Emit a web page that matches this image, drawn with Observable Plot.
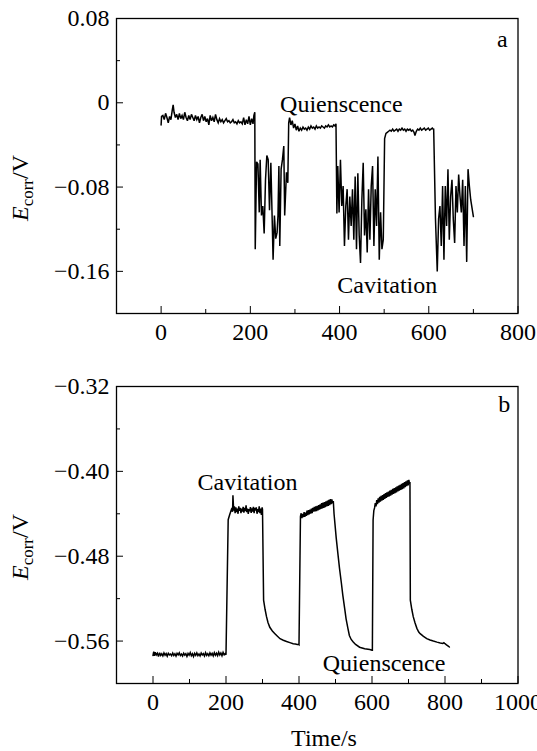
<!DOCTYPE html>
<html><head><meta charset="utf-8">
<script src="https://cdn.jsdelivr.net/npm/d3@7"></script>
<script src="https://cdn.jsdelivr.net/npm/@observablehq/plot@0.6"></script>
<style>
html,body{margin:0;padding:0;background:#fff;}
#chart svg{display:block;}
</style></head><body><div id="chart"></div>
<script>
// ---- Panel a: time (s) and Ecorr (V)
const timeA = [0,1,4,7,10,13,16,19,22,25,27,29,32,35,38,41,44,47,50,53,56,59,62,65,68,71,74,77,80,83,86,89,92,95,98,101,104,107,110,113,116,119,122,125,128,131,134,137,140,143,146,149,152,155,158,161,164,167,170,173,176,179,182,185,188,191,194,197,200,203,206,208,210,
211,214,217,220,222,225,228,231,234,237,240,243,246,249,251,254,257,260,262,264,266,269,272,275,277,281,284,286,288,
291,294,297,300,303,306,309,312,315,318,321,324,327,330,333,336,339,342,345,348,351,354,357,360,363,366,369,372,375,378,381,384,387,390,392,
394,396,399,402,405,408,411,414,417,420,423,426,429,432,435,438,441,444,447,450,453,456,459,462,465,468,471,474,477,480,483,486,489,492,495,498,501,
504,507,510,513,516,519,522,525,528,531,534,537,540,543,546,549,552,555,558,561,564,567,569,572,575,578,581,584,587,590,593,596,599,602,605,608,610,
611,615,619,622,625,628,631,634,637,640,643,646,649,652,655,658,661,664,667,670,673,676,679,682,685,688,691,694,700];
const ecorrA = [-0.021,-0.013,-0.012,-0.016,-0.010,-0.014,-0.019,-0.013,-0.016,-0.007,-0.002,-0.009,-0.014,-0.011,-0.016,-0.010,-0.015,-0.012,-0.016,-0.009,-0.014,-0.017,-0.012,-0.016,-0.011,-0.014,-0.017,-0.012,-0.016,-0.013,-0.019,-0.014,-0.011,-0.017,-0.013,-0.018,-0.015,-0.021,-0.012,-0.017,-0.014,-0.018,-0.011,-0.016,-0.019,-0.015,-0.018,-0.016,-0.019,-0.017,-0.015,-0.018,-0.017,-0.019,-0.018,-0.016,-0.019,-0.018,-0.020,-0.017,-0.019,-0.018,-0.020,-0.014,-0.021,-0.016,-0.020,-0.013,-0.021,-0.015,-0.020,-0.012,-0.009,
-0.139,-0.056,-0.058,-0.104,-0.054,-0.107,-0.098,-0.124,-0.073,-0.050,-0.054,-0.102,-0.057,-0.111,-0.149,-0.107,-0.129,-0.123,-0.107,-0.060,-0.136,-0.063,-0.054,-0.041,-0.107,-0.066,-0.076,-0.019,-0.014,
-0.021,-0.017,-0.024,-0.020,-0.026,-0.022,-0.027,-0.024,-0.026,-0.023,-0.025,-0.024,-0.026,-0.023,-0.025,-0.022,-0.024,-0.023,-0.025,-0.022,-0.024,-0.023,-0.024,-0.022,-0.023,-0.024,-0.022,-0.023,-0.021,-0.023,-0.022,-0.023,-0.021,-0.022,-0.020,
-0.105,-0.060,-0.104,-0.054,-0.098,-0.079,-0.136,-0.098,-0.082,-0.130,-0.089,-0.117,-0.082,-0.130,-0.070,-0.139,-0.067,-0.126,-0.152,-0.092,-0.057,-0.126,-0.101,-0.142,-0.082,-0.130,-0.079,-0.060,-0.136,-0.082,-0.117,-0.051,-0.149,-0.104,-0.139,-0.130,-0.034,
-0.029,-0.028,-0.027,-0.026,-0.027,-0.025,-0.027,-0.026,-0.025,-0.027,-0.025,-0.026,-0.024,-0.026,-0.025,-0.027,-0.025,-0.026,-0.025,-0.027,-0.026,-0.028,-0.031,-0.027,-0.025,-0.026,-0.024,-0.026,-0.025,-0.024,-0.026,-0.025,-0.024,-0.026,-0.025,-0.024,-0.025,
-0.025,-0.110,-0.160,-0.110,-0.098,-0.136,-0.079,-0.149,-0.079,-0.117,-0.063,-0.130,-0.089,-0.073,-0.111,-0.133,-0.079,-0.104,-0.068,-0.089,-0.104,-0.073,-0.136,-0.079,-0.151,-0.063,-0.079,-0.092,-0.108];

// ---- Panel b: time (s) and Ecorr (V)
const timeB = [0,2,4,6,9,12,15,18,21,24,27,30,33,36,39,42,45,48,51,54,57,60,63,66,69,72,75,78,81,84,87,90,93,96,99,102,105,108,111,114,117,120,123,126,129,132,135,138,141,144,147,150,153,156,159,162,165,168,171,174,177,180,183,186,189,192,195,198,
200,206,210,215,218,219,221,223,225,227,229,231,233,235,237,239,241,243,245,247,249,251,253,255,257,259,261,263,265,267,269,271,273,275,277,279,281,283,285,287,289,291,293,295,297,299,300,
303,307,311,315,320,327,334,341,348,357,366,375,384,390,395,398,400,
404,406,408,410,412,414,416,418,420,422,424,426,428,430,432,434,436,438,440,442,444,446,448,450,452,454,456,458,460,462,464,466,468,470,472,474,476,478,480,482,484,486,488,490,492,494,
496,502,507,511,516,520,525,529,534,538,543,548,555,566,580,594,600,601,
603,605,607,609,611,613,615,617,619,621,623,625,627,629,631,633,635,637,639,641,643,645,647,649,651,653,655,657,659,661,663,665,667,669,671,673,675,677,679,681,683,685,687,689,691,693,695,697,699,701,703,704,
705,709,713,718,723,728,732,741,750,759,768,778,787,794,797,800,804,808,812];
const ecorrB = [-0.5735,-0.5700,-0.5740,-0.5705,-0.5730,-0.5715,-0.5745,-0.5710,-0.5735,-0.5720,-0.5740,-0.5712,-0.5733,-0.5718,-0.5742,-0.5715,-0.5730,-0.5722,-0.5738,-0.5713,-0.5735,-0.5720,-0.5742,-0.5716,-0.5730,-0.5711,-0.5736,-0.5722,-0.5740,-0.5714,-0.5732,-0.5719,-0.5745,-0.5717,-0.5733,-0.5708,-0.5738,-0.5720,-0.5746,-0.5716,-0.5734,-0.5712,-0.5737,-0.5721,-0.5740,-0.5713,-0.5731,-0.5718,-0.5741,-0.5710,-0.5735,-0.5719,-0.5738,-0.5712,-0.5733,-0.5716,-0.5740,-0.5709,-0.5734,-0.5715,-0.5737,-0.5705,-0.5731,-0.5712,-0.5738,-0.5706,-0.5730,-0.5718,
-0.5730,-0.4456,-0.4410,-0.4358,-0.4380,-0.4225,-0.4370,-0.4330,-0.4395,-0.4340,-0.4385,-0.4350,-0.4400,-0.4330,-0.4372,-0.4345,-0.4395,-0.4352,-0.4380,-0.4335,-0.4390,-0.4345,-0.4375,-0.4320,-0.4385,-0.4350,-0.4400,-0.4355,-0.4375,-0.4338,-0.4392,-0.4348,-0.4380,-0.4335,-0.4395,-0.4345,-0.4370,-0.4340,-0.4400,-0.4355,-0.4385,-0.4330,-0.4395,-0.4350,-0.4410,-0.4340,-0.4360,
-0.5215,-0.5300,-0.5370,-0.5425,-0.5470,-0.5505,-0.5530,-0.5555,-0.5578,-0.5592,-0.5604,-0.5615,-0.5626,-0.5628,-0.5633,-0.5630,-0.5635,
-0.4424,-0.4395,-0.4440,-0.4400,-0.4432,-0.4385,-0.4428,-0.4390,-0.4420,-0.4370,-0.4412,-0.4365,-0.4405,-0.4360,-0.4398,-0.4350,-0.4395,-0.4345,-0.4380,-0.4335,-0.4378,-0.4330,-0.4375,-0.4325,-0.4368,-0.4318,-0.4362,-0.4310,-0.4355,-0.4300,-0.4350,-0.4295,-0.4345,-0.4290,-0.4338,-0.4282,-0.4330,-0.4275,-0.4325,-0.4268,-0.4318,-0.4262,-0.4310,-0.4265,-0.4300,-0.4280,
-0.4400,-0.4630,-0.4790,-0.4915,-0.5050,-0.5167,-0.5290,-0.5390,-0.5480,-0.5547,-0.5585,-0.5607,-0.5632,-0.5658,-0.5672,-0.5680,-0.5686,-0.5686,
-0.4459,-0.4370,-0.4345,-0.4300,-0.4330,-0.4270,-0.4310,-0.4255,-0.4295,-0.4240,-0.4285,-0.4232,-0.4275,-0.4225,-0.4268,-0.4215,-0.4260,-0.4205,-0.4250,-0.4198,-0.4242,-0.4190,-0.4235,-0.4182,-0.4228,-0.4175,-0.4220,-0.4165,-0.4212,-0.4158,-0.4205,-0.4150,-0.4198,-0.4142,-0.4190,-0.4135,-0.4182,-0.4128,-0.4175,-0.4118,-0.4168,-0.4110,-0.4160,-0.4102,-0.4150,-0.4095,-0.4140,-0.4085,-0.4132,-0.4080,-0.4120,-0.4100,
-0.5214,-0.5300,-0.5370,-0.5430,-0.5480,-0.5515,-0.5530,-0.5555,-0.5577,-0.5590,-0.5600,-0.5610,-0.5618,-0.5622,-0.5616,-0.5625,-0.5635,-0.5645,-0.5656];

// ---- Tick values
const xTicksA = [0, 200, 400, 600, 800];
const xMinorA = [100, 300, 500, 700];
const yTicksA = [0.08, 0, -0.08, -0.16];
const yMinorA = [0.04, -0.04, -0.12];
const xTicksB = [0, 200, 400, 600, 800, 1000];
const xMinorB = [100, 300, 500, 700, 900];
const yTicksB = [-0.32, -0.40, -0.48, -0.56];
const yMinorB = [-0.36, -0.44, -0.52];

const FONT = "'Liberation Serif', 'Times New Roman', Times, serif";
const fmtY = d => d === 0 ? "0" : d3.format(".2f")(d);

function panel(o) {
  const data = o.time.map((t, i) => ({t, v: o.ecorr[i]}));
  const svg = Plot.plot({
    width: 537, height: o.height,
    marginLeft: 116, marginRight: 19.5, marginTop: o.marginTop, marginBottom: o.marginBottom,
    style: {fontFamily: FONT, fontSize: "24px", color: "#000", background: "#fff", overflow: "visible"},
    x: {domain: o.xDomain},
    y: {domain: o.yDomain},
    marks: [
      Plot.line(data, {x: "t", y: "v", stroke: "#000", strokeWidth: 1.5, strokeLinejoin: "miter", strokeMiterlimit: 3}),
      Plot.axisX(o.xTicks, {tickSize: -7, tickPadding: 16, tickFormat: d => String(d), fontSize: 24, label: null}),
      Plot.axisX(o.xMinor, {tickSize: -4, fill: "none", label: null}),
      Plot.axisY(o.yTicks, {tickSize: -7, tickPadding: 14, tickFormat: fmtY, fontSize: 24, label: null}),
      Plot.axisY(o.yMinor, {tickSize: -4, fill: "none", label: null}),
      Plot.frame({stroke: "#000", strokeWidth: 1.3}),
      ...o.labels.map(l => Plot.text([l.text], {x: l.x, y: l.y, text: d => d, fontSize: 24, textAnchor: "middle", lineAnchor: "middle", fill: "#000"}))
    ]
  });
  const s = d3.select(svg);
  const t = s.append("text")
    .attr("transform", `translate(${o.titleX},${o.titleY}) rotate(-90)`)
    .attr("font-family", FONT).attr("font-size", 24).attr("fill", "#000");
  t.append("tspan").attr("font-style", "italic").text("E");
  t.append("tspan").attr("font-size", 17).attr("dy", 5).text("corr");
  t.append("tspan").attr("dy", -5).text("/V");
  if (o.xTitle) {
    s.append("text").attr("x", o.xTitle.x).attr("y", o.xTitle.y)
      .attr("text-anchor", "middle").attr("font-family", FONT).attr("font-size", 24).attr("fill", "#000")
      .text(o.xTitle.text);
  }
  return svg;
}

const chart = document.getElementById("chart");
chart.appendChild(panel({
  time: timeA, ecorr: ecorrA, xDomain: [-100, 800], yDomain: [-0.2, 0.08],
  xTicks: xTicksA, xMinor: xMinorA, yTicks: yTicksA, yMinor: yMinorA,
  height: 360, marginTop: 18, marginBottom: 47,
  titleX: 28, titleY: 188,
  labels: [
    {text: "Quienscence", x: 404, y: -0.001},
    {text: "Cavitation", x: 507, y: -0.173},
    {text: "a", x: 765, y: 0.0607}
  ]
}));
chart.appendChild(panel({
  time: timeB, ecorr: ecorrB, xDomain: [-100, 1000], yDomain: [-0.6, -0.32],
  xTicks: xTicksB, xMinor: xMinorB, yTicks: yTicksB, yMinor: yMinorB,
  height: 391, marginTop: 26, marginBottom: 68,
  titleX: 28, titleY: 187,
  xTitle: {text: "Time/s", x: 324, y: 386},
  labels: [
    {text: "Cavitation", x: 259, y: -0.4107},
    {text: "Quienscence", x: 633, y: -0.5813},
    {text: "b", x: 962, y: -0.337}
  ]
}));
</script></body></html>
